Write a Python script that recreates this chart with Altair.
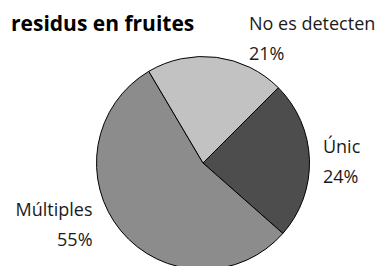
import math
import altair as alt
import pandas as pd

categories = ["Únic", "Múltiples", "No es detecten"]
values = [24, 55, 21]
labels = ["Únic\n24%", "Múltiples\n55%", "No es detecten\n21%"]
colors = ["#4d4d4d", "#8c8c8c", "#c2c2c2"]

df = pd.DataFrame({"cat": categories, "value": values, "label": labels,
                   "ord": list(range(len(categories)))})

start = math.pi / 4
theta = alt.Theta("value:Q", stack=True,
                  scale=alt.Scale(range=[start, start + 2 * math.pi]))

base = alt.Chart(df).encode(theta=theta, order=alt.Order("ord:Q"))

arcs = base.mark_arc(outerRadius=106.5, stroke="black", strokeWidth=1).encode(
    color=alt.Color("cat:N", scale=alt.Scale(domain=categories, range=colors), legend=None)
)

FONT = "Open Sans"

def label_layer(cat, align, dx, dy):
    return base.mark_text(
        radius=120, align=align, baseline="alphabetic", dx=dx, dy=dy,
        lineBreak="\n", lineHeight=30, fontSize=18, font=FONT, color="#1a1a1a"
    ).encode(
        text=alt.condition(f"datum.cat == '{cat}'", "label:N", alt.value(""))
    )

t1 = label_layer("No es detecten", "left", 31, -14)
t2 = label_layer("Únic", "left", 0, -6)
t3 = label_layer("Múltiples", "right", -18, -23)

chart = alt.layer(arcs, t1, t2, t3).properties(
    width=250, height=190,
    autosize=alt.AutoSizeParams(type="none"),
    padding={"left": 70, "top": 60, "right": 51, "bottom": 8},
    title=alt.TitleParams("residus en fruites", anchor="start", orient="none",
                           font=FONT, fontSize=21, fontWeight="bold",
                           baseline="alphabetic", offset=0, dx=-67, dy=-37,
                           color="black"),
).configure_view(stroke=None)

chart.save("out.html", embed_options={"renderer": "svg", "actions": False})
